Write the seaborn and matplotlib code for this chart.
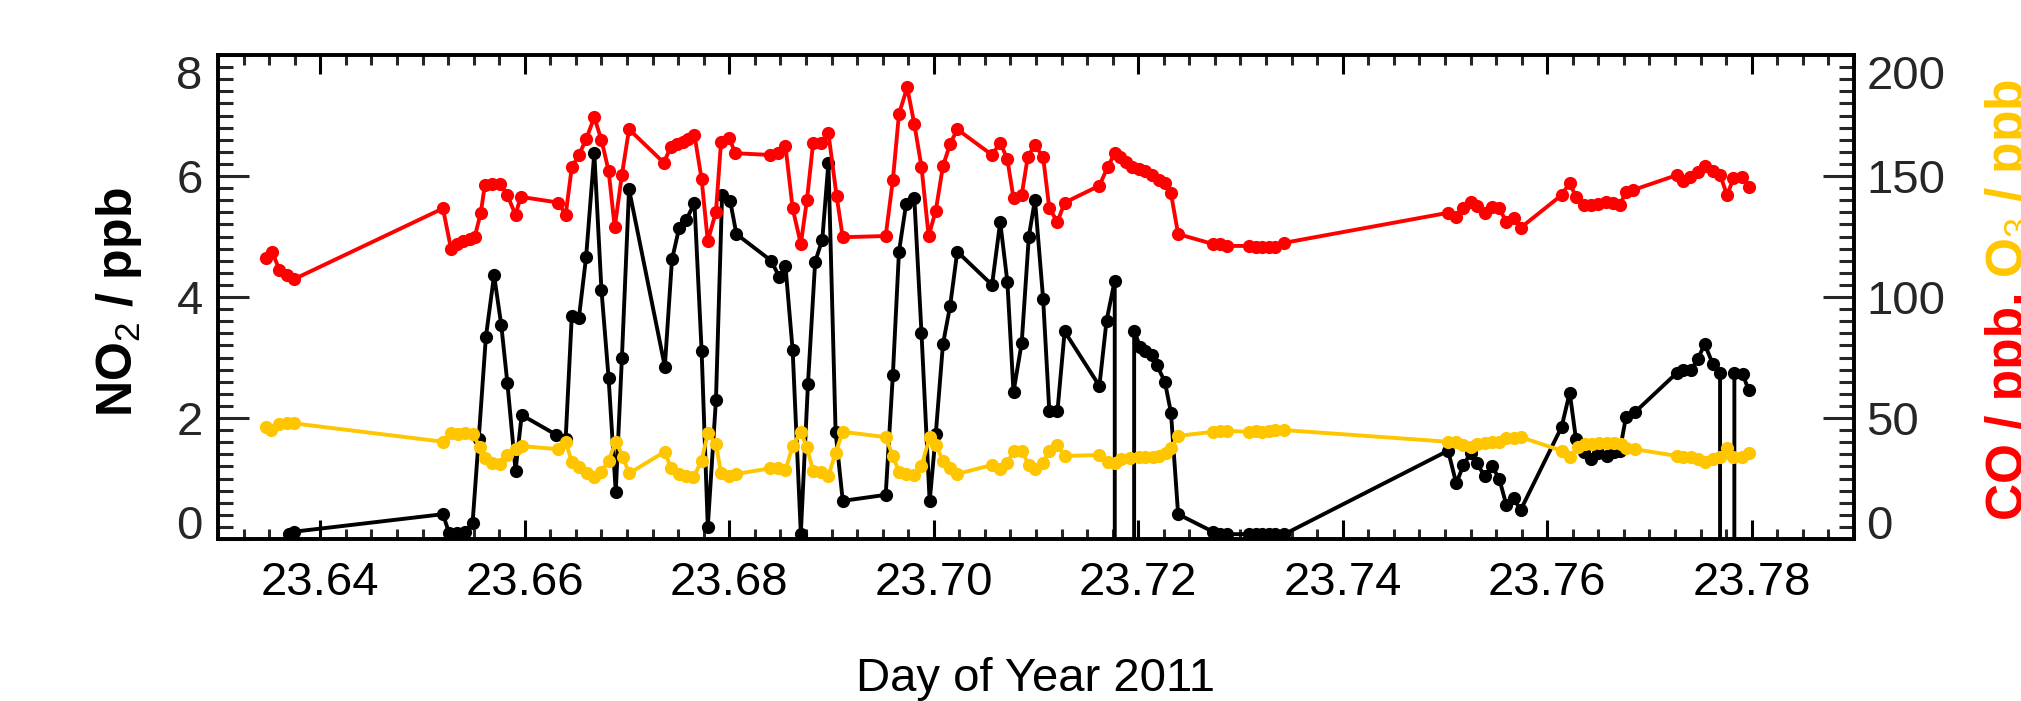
import matplotlib
matplotlib.use('Agg')
import matplotlib.pyplot as plt
import seaborn as sns
from matplotlib.ticker import MultipleLocator, FormatStrFormatter

# ---------------- data ----------------
no2_time = [23.6369, 23.6374, 23.6520, 23.6526, 23.6534, 23.6542, 23.6549, 23.6555, 23.6562, 23.6570,
            23.6577, 23.6583, 23.6591, 23.6597, 23.6631, 23.6640, 23.6646, 23.6653, 23.6660, 23.6668,
            23.6675, 23.6682, 23.6689, 23.6695, 23.6702, 23.6737, 23.6744, 23.6751, 23.6758, 23.6766,
            23.6773, 23.6779, 23.6787, 23.6793, 23.6801, 23.6807, 23.6841, 23.6849, 23.6855, 23.6862,
            23.6870, 23.6877, 23.6884, 23.6891, 23.6897, 23.6904, 23.6911, 23.6953, 23.6960, 23.6966,
            23.6973, 23.6981, 23.6988, 23.6996, 23.7002, 23.7009, 23.7016, 23.7023, 23.7057, 23.7065,
            23.7072, 23.7078, 23.7086, 23.7093, 23.7099, 23.7107, 23.7113, 23.7121, 23.7128, 23.7162,
            23.7169, 23.7177, 23.7186, 23.7196, 23.7202, 23.7207, 23.7213, 23.7218, 23.7226, 23.7232,
            23.7239, 23.7273, 23.7280, 23.7287, 23.7308, 23.7315, 23.7321, 23.7328, 23.7334, 23.7343,
            23.7503, 23.7511, 23.7518, 23.7525, 23.7531, 23.7539, 23.7546, 23.7553, 23.7560, 23.7567,
            23.7574, 23.7614, 23.7622, 23.7628, 23.7636, 23.7643, 23.7650, 23.7658, 23.7665, 23.7671,
            23.7677, 23.7686, 23.7727, 23.7733, 23.7741, 23.7747, 23.7754, 23.7762, 23.7769, 23.7776,
            23.7783, 23.7791, 23.7797]
no2_ppb = [0.09, 0.12, 0.41, 0.10, 0.10, 0.12, 0.27, 1.66, 3.34, 4.36,
           3.54, 2.58, 1.13, 2.05, 1.72, 1.65, 3.69, 3.66, 4.66, 6.38,
           4.12, 2.66, 0.78, 2.99, 5.78, 2.85, 4.62, 5.14, 5.28, 5.55,
           3.10, 0.20, 2.30, 5.69, 5.58, 5.04, 4.60, 4.33, 4.51, 3.12,
           0.09, 2.57, 4.58, 4.95, 6.22, 1.77, 0.63, 0.73, 2.71, 4.75,
           5.54, 5.63, 3.41, 0.62, 1.74, 3.22, 3.85, 4.75, 4.20, 5.24,
           4.25, 2.43, 3.24, 5.00, 5.61, 3.96, 2.12, 2.12, 3.43, 2.53,
           3.61, 4.27, -999, 3.44, 3.17, 3.10, 3.04, 2.88, 2.60, 2.09,
           0.41, 0.12, 0.08, 0.08, 0.08, 0.08, 0.08, 0.08, 0.08, 0.08,
           1.46, 0.92, 1.22, 1.42, 1.25, 1.04, 1.20, 1.00, 0.56, 0.67,
           0.48, 1.85, 2.42, 1.66, 1.44, 1.33, 1.42, 1.37, 1.44, 1.46,
           2.02, 2.10, 2.75, 2.79, 2.80, 2.97, 3.22, 2.89, 2.74, -999,
           2.74, 2.73, 2.46]

co_time = [23.6347, 23.6353, 23.6360, 23.6367, 23.6374, 23.6520, 23.6528, 23.6534, 23.6540, 23.6546,
           23.6551, 23.6557, 23.6561, 23.6568, 23.6576, 23.6583, 23.6591, 23.6596, 23.6633, 23.6640,
           23.6646, 23.6653, 23.6660, 23.6668, 23.6675, 23.6682, 23.6688, 23.6695, 23.6702, 23.6736,
           23.6743, 23.6749, 23.6755, 23.6760, 23.6766, 23.6773, 23.6779, 23.6787, 23.6792, 23.6800,
           23.6806, 23.6840, 23.6848, 23.6855, 23.6862, 23.6870, 23.6876, 23.6882, 23.6890, 23.6897,
           23.6905, 23.6911, 23.6953, 23.6960, 23.6966, 23.6974, 23.6981, 23.6988, 23.6995, 23.7002,
           23.7009, 23.7016, 23.7023, 23.7057, 23.7065, 23.7072, 23.7078, 23.7086, 23.7092, 23.7099,
           23.7107, 23.7113, 23.7121, 23.7128, 23.7162, 23.7170, 23.7177, 23.7182, 23.7188, 23.7194,
           23.7201, 23.7207, 23.7213, 23.7220, 23.7226, 23.7232, 23.7239, 23.7273, 23.7280, 23.7287,
           23.7308, 23.7315, 23.7321, 23.7328, 23.7334, 23.7343, 23.7503, 23.7511, 23.7518, 23.7525,
           23.7531, 23.7539, 23.7546, 23.7553, 23.7560, 23.7567, 23.7574, 23.7614, 23.7622, 23.7628,
           23.7636, 23.7643, 23.7650, 23.7657, 23.7664, 23.7671, 23.7677, 23.7684, 23.7727, 23.7733,
           23.7740, 23.7747, 23.7754, 23.7762, 23.7769, 23.7776, 23.7782, 23.7790, 23.7797]
co_ppb = [116.0, 118.7, 111.2, 109.1, 107.3, 136.6, 119.7, 121.9, 123.3, 123.8,
          124.7, 134.8, 146.3, 146.6, 146.7, 142.1, 133.9, 141.4, 139.0, 133.9,
          153.6, 158.7, 165.2, 174.2, 164.9, 152.2, 128.8, 150.4, 169.3, 155.5,
          162.1, 163.2, 164.2, 165.2, 166.9, 148.6, 123.1, 135.2, 164.2, 165.6,
          159.4, 158.7, 159.6, 162.4, 136.6, 121.9, 140.1, 163.5, 163.5, 167.6,
          141.7, 124.7, 125.2, 148.3, 175.6, 186.6, 171.5, 153.8, 125.2, 135.7,
          154.1, 163.2, 169.3, 158.7, 163.8, 156.9, 140.8, 142.1, 158.0, 162.8,
          157.7, 136.6, 131.1, 139.0, 146.0, 153.6, 159.4, 157.7, 155.9, 153.8,
          152.8, 152.2, 150.4, 148.3, 147.2, 142.8, 126.0, 121.9, 121.9, 121.1,
          121.1, 120.8, 120.5, 120.5, 120.8, 122.4, 134.8, 132.9, 136.6, 139.4,
          137.7, 134.8, 137.1, 136.6, 131.1, 132.5, 128.6, 142.1, 147.2, 141.4,
          138.0, 138.0, 138.4, 139.4, 138.7, 138.0, 143.5, 144.2, 150.4, 148.1,
          149.7, 151.8, 154.1, 152.2, 150.4, 142.1, 149.0, 149.7, 145.6]

o3_time = [23.6347, 23.6352, 23.6360, 23.6367, 23.6374, 23.6520, 23.6528, 23.6535, 23.6542, 23.6549,
           23.6556, 23.6561, 23.6568, 23.6576, 23.6583, 23.6591, 23.6597, 23.6633, 23.6640, 23.6646,
           23.6653, 23.6661, 23.6668, 23.6675, 23.6682, 23.6689, 23.6696, 23.6702, 23.6737, 23.6743,
           23.6751, 23.6758, 23.6765, 23.6773, 23.6779, 23.6787, 23.6792, 23.6800, 23.6807, 23.6840,
           23.6848, 23.6855, 23.6862, 23.6870, 23.6876, 23.6882, 23.6890, 23.6897, 23.6904, 23.6911,
           23.6953, 23.6960, 23.6966, 23.6973, 23.6981, 23.6988, 23.6996, 23.7002, 23.7009, 23.7016,
           23.7023, 23.7057, 23.7065, 23.7072, 23.7078, 23.7086, 23.7093, 23.7099, 23.7107, 23.7113,
           23.7121, 23.7128, 23.7162, 23.7170, 23.7177, 23.7183, 23.7192, 23.7201, 23.7207, 23.7214,
           23.7220, 23.7227, 23.7232, 23.7239, 23.7273, 23.7280, 23.7287, 23.7308, 23.7315, 23.7321,
           23.7328, 23.7334, 23.7343, 23.7503, 23.7511, 23.7518, 23.7525, 23.7531, 23.7539, 23.7546,
           23.7553, 23.7560, 23.7567, 23.7574, 23.7614, 23.7622, 23.7630, 23.7637, 23.7644, 23.7651,
           23.7658, 23.7665, 23.7672, 23.7677, 23.7686, 23.7727, 23.7733, 23.7741, 23.7747, 23.7754,
           23.7762, 23.7769, 23.7776, 23.7782, 23.7790, 23.7797]
o3_ppb = [46.2, 45.0, 47.5, 48.1, 47.8, 40.2, 43.9, 43.4, 43.7, 43.4,
          38.1, 33.3, 31.3, 31.0, 34.7, 37.1, 38.4, 37.1, 40.2, 31.9,
          29.6, 27.4, 25.7, 27.8, 32.4, 40.2, 34.0, 27.1, 36.1, 29.2,
          26.9, 26.0, 25.5, 32.4, 43.7, 39.3, 27.1, 26.0, 26.9, 29.2,
          29.2, 28.5, 38.4, 44.3, 37.9, 28.2, 27.8, 26.0, 35.7, 44.3,
          42.1, 34.3, 27.8, 26.9, 26.4, 30.2, 42.0, 38.8, 32.4, 29.2,
          26.9, 30.6, 28.8, 31.3, 36.5, 36.5, 30.6, 28.8, 31.5, 36.5,
          38.8, 34.3, 34.7, 31.9, 31.5, 32.9, 33.3, 33.8, 34.0, 34.0,
          34.3, 35.4, 37.5, 42.6, 44.3, 44.7, 44.7, 44.3, 44.7, 44.3,
          44.7, 45.0, 45.0, 40.2, 40.2, 38.8, 38.1, 39.3, 39.5, 40.2,
          40.2, 41.6, 41.6, 42.1, 36.5, 34.0, 37.9, 39.3, 39.3, 39.5,
          39.5, 39.5, 39.3, 37.5, 37.1, 34.3, 33.8, 34.0, 32.9, 31.9,
          32.9, 34.0, 37.5, 34.0, 34.0, 35.4]

x_ticks = [23.64, 23.66, 23.68, 23.70, 23.72, 23.74, 23.76, 23.78]
left_ticks = [0, 2, 4, 6, 8]
right_ticks = [0, 50, 100, 150, 200]

# ---------------- style ----------------
sns.set_style('white')
plt.rcParams['font.family'] = ['Liberation Sans', 'DejaVu Sans']
plt.rcParams['mathtext.fontset'] = 'custom'
plt.rcParams['mathtext.rm'] = 'Liberation Sans'
plt.rcParams['mathtext.bf'] = 'Liberation Sans:bold'
plt.rcParams['mathtext.it'] = 'Liberation Sans:italic'
plt.rcParams['axes.edgecolor'] = 'black'

RED = '#FF0000'
GOLD = '#FFC600'
W, H = 2021, 701

fig = plt.figure(figsize=(W / 100, H / 100), dpi=100)
ax = fig.add_axes([218 / W, 1 - 539 / H, (1854 - 218) / W, (539 - 55) / H])
ax2 = ax.twinx()

line_kw = dict(marker='o', markersize=9.5, markeredgewidth=0, linewidth=2.8,
               estimator=None, sort=False, legend=False)
sns.lineplot(x=no2_time, y=no2_ppb, ax=ax, color='black', **line_kw)
sns.lineplot(x=co_time, y=co_ppb, ax=ax2, color=RED, **line_kw)
sns.lineplot(x=o3_time, y=o3_ppb, ax=ax2, color=GOLD, **line_kw)

ax.set_xlim(23.63, 23.79)
ax.set_ylim(0, 8)
ax2.set_ylim(0, 200)
ax.set_xticks(x_ticks)
ax.xaxis.set_major_formatter(FormatStrFormatter('%.2f'))
ax.xaxis.set_minor_locator(MultipleLocator(0.0025))
ax.set_yticks(left_ticks)
ax.yaxis.set_minor_locator(MultipleLocator(0.2))
ax2.set_yticks(right_ticks)
ax2.yaxis.set_minor_locator(MultipleLocator(5))
ax.set_xlabel('')
ax.set_ylabel('')
ax2.set_ylabel('')

ax.tick_params(axis='x', which='major', direction='in', length=14, width=2.2,
               top=True, bottom=True, labelsize=34, pad=16, colors='black')
ax.tick_params(axis='x', which='minor', direction='in', length=7, width=2.2,
               top=True, bottom=True)
ax.tick_params(axis='y', which='major', direction='in', length=22, width=2.2,
               left=True, right=False, labelsize=34, pad=11)
ax.tick_params(axis='y', which='minor', direction='in', length=11, width=2.2,
               left=True, right=False)
ax2.tick_params(axis='y', which='major', direction='in', length=22, width=2.2,
                right=True, left=False, labelsize=34, pad=9)
ax2.tick_params(axis='y', which='minor', direction='in', length=11, width=2.2,
                right=True, left=False)

for a in (ax, ax2):
    for s in a.spines.values():
        s.set_linewidth(2.6)
        s.set_color('black')
        s.set_visible(True)

fig.canvas.draw()
for a in (ax, ax2):
    ticks = a.yaxis.get_major_ticks()
    ticks[0].label1.set_va('baseline')
    ticks[0].label2.set_va('baseline')
    ticks[-1].label1.set_va('top')
    ticks[-1].label2.set_va('top')

# axis titles
fig.text(1036 / W, 1 - 691 / H, 'Day of Year 2011', ha='center', va='baseline',
         fontsize=34, color='black')
fig.text(132 / W, 1 - 417 / H, r'NO$_\mathrm{2}$ / ppb', rotation=90,
         rotation_mode='anchor', ha='left', va='baseline', fontsize=36,
         fontweight='bold', color='black')

t1 = fig.text(2023 / W, 1 - 520 / H, 'CO / ppb,', rotation=90, rotation_mode='anchor',
              ha='left', va='baseline', fontsize=37, fontweight='bold', color=RED)
fig.canvas.draw()
bb = t1.get_window_extent()
fig.text(2023 / W, (bb.y1 + 14) / H, r'O$_\mathrm{3}$ / ppb', rotation=90,
         rotation_mode='anchor', ha='left', va='baseline', fontsize=37,
         fontweight='bold', color=GOLD)

fig.savefig('out.png', dpi=100)
